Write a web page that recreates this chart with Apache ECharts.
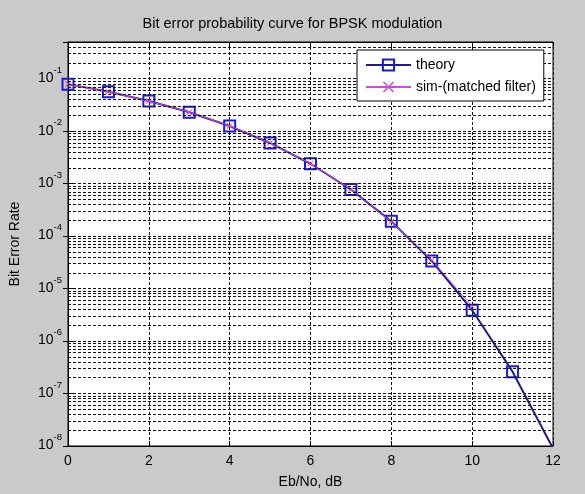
<!DOCTYPE html>
<html>
<head>
<meta charset="utf-8">
<script src="https://cdn.jsdelivr.net/npm/echarts@6/dist/echarts.min.js"></script>
<style>
html,body{margin:0;padding:0;background:#cacaca;}
#chart{width:585px;height:494px;}
</style>
</head>
<body>
<div id="chart"></div>
<script>
// Data
const ebN0dB = [0, 1, 2, 3, 4, 5, 6, 7, 8, 9, 10, 11, 12];
const theoryBer = [0.0787, 0.0563, 0.0375, 0.0229, 0.0125, 0.00595, 0.00239, 0.000773, 0.000191, 3.36e-5, 3.87e-6, 2.61e-7, 9.0e-9];
const simEbN0dB = [0, 1, 2, 3, 4, 5, 6, 7, 8, 9, 10];
const simBer = [0.0788, 0.0562, 0.0374, 0.0230, 0.0126, 0.00597, 0.00241, 0.000780, 0.000187, 3.5e-5, 4.6e-6];
const xTicks = [0, 2, 4, 6, 8, 10, 12];
const yDecades = [-8, -7, -6, -5, -4, -3, -2, -1];
const titleText = 'Bit error probability curve for BPSK modulation';
const xLabel = 'Eb/No, dB';
const yLabel = 'Bit Error Rate';
const legendNames = ['theory', 'sim-(matched filter)'];

const X_MIN = 0, X_MAX = 12, Y_MIN = 1e-8, Y_MAX = 0.5;

// minor log grid positions (2..9 x 10^n)
const minorGrid = [];
yDecades.forEach(function (n) {
  for (let k = 2; k <= 9; k++) {
    const v = k * Math.pow(10, n);
    if (v < Y_MAX) minorGrid.push(v);
  }
});

const FONT = 'Liberation Sans';
const FS = 14;
const chart = echarts.init(document.getElementById('chart'));

function yFmt(v) {
  const e = Math.log10(v);
  const r = Math.round(e);
  if (Math.abs(e - r) > 1e-6 || yDecades.indexOf(r) < 0) return '';
  return '{b|10}{s|' + r + '}';
}

const gridLine = { show: true, lineStyle: { color: '#111', type: [3, 2], width: 1 } };

chart.setOption({
  backgroundColor: '#cacaca',
  animation: false,
  title: {
    text: titleText, left: 'center', top: 11,
    textStyle: { fontFamily: FONT, fontSize: 14.5, fontWeight: 'normal', color: '#000' }
  },
  grid: { left: 67, right: 32, top: 42, bottom: 46, show: true, backgroundColor: '#fff', borderColor: '#000', borderWidth: 1 },
  legend: {
    data: legendNames, orient: 'vertical', left: 357, top: 50, z: 20,
    backgroundColor: '#fff', borderColor: '#000', borderWidth: 1,
    padding: [8, 8, 7, 8], itemGap: 8, itemWidth: 45, itemHeight: 14,
    textStyle: { fontFamily: FONT, fontSize: FS, color: '#000' }
  },
  xAxis: [{
    type: 'value', min: X_MIN, max: X_MAX, interval: 2,
    name: xLabel, nameLocation: 'middle', nameGap: 29,
    nameTextStyle: { fontFamily: FONT, fontSize: FS, color: '#000' },
    axisLine: { show: true, lineStyle: { color: '#000' } },
    axisTick: { show: true, inside: true, length: 5, lineStyle: { color: '#000' } },
    axisLabel: { fontFamily: FONT, fontSize: FS, color: '#000', margin: 8 },
    splitLine: gridLine
  }, {
    type: 'value', position: 'top', min: X_MIN, max: X_MAX, interval: 2,
    axisLine: { show: true, lineStyle: { color: '#000' } },
    axisTick: { show: true, inside: true, length: 5, lineStyle: { color: '#000' } },
    axisLabel: { show: false }, splitLine: { show: false }
  }],
  yAxis: [{
    type: 'log', logBase: 10, min: Y_MIN, max: Y_MAX,
    name: yLabel, nameLocation: 'middle', nameGap: 46,
    nameTextStyle: { fontFamily: FONT, fontSize: FS, color: '#000' },
    axisLine: { show: true, lineStyle: { color: '#000' } },
    axisTick: { show: true, inside: true, length: 5, lineStyle: { color: '#000' } },
    axisLabel: {
      formatter: yFmt, margin: 6, padding: [0, 0, 7, 0],
      rich: {
        b: { fontFamily: FONT, fontSize: FS, color: '#000', lineHeight: 20, verticalAlign: 'bottom' },
        s: { fontFamily: FONT, fontSize: 9.5, color: '#000', lineHeight: 20, verticalAlign: 'top' }
      }
    },
    splitLine: gridLine
  }, {
    type: 'log', logBase: 10, min: Y_MIN, max: Y_MAX, position: 'right',
    axisLine: { show: true, lineStyle: { color: '#000' } },
    axisTick: { show: true, inside: true, length: 5, lineStyle: { color: '#000' } },
    axisLabel: { show: false }, splitLine: { show: false }
  }],
  series: [{
    type: 'line', name: '_minor', data: [], silent: true, z: 1,
    markLine: {
      silent: true, symbol: 'none', animation: false, precision: 12,
      label: { show: false },
      lineStyle: { color: '#111', type: [3, 2], width: 1 },
      data: minorGrid.map(function (v) { return [{ coord: [X_MIN, v] }, { coord: [X_MAX, v] }]; })
    }
  }, {
    type: 'line', name: legendNames[0], z: 3, clip: true,
    data: ebN0dB.map(function (x, i) { return [x, theoryBer[i]]; }),
    lineStyle: { color: '#1c1c8c', width: 2 },
    symbol: 'rect', symbolSize: 11, showAllSymbol: true,
    itemStyle: { color: 'rgba(0,0,0,0)', borderColor: '#1a1ad4', borderWidth: 2 }
  }, {
    type: 'line', name: legendNames[1], z: 4, clip: true,
    data: simEbN0dB.map(function (x, i) { return [x, simBer[i]]; }),
    lineStyle: { color: '#d848d8', width: 1 },
    symbol: 'path://M0,1L1,0L5,4L9,0L10,1L6,5L10,9L9,10L5,6L1,10L0,9L4,5Z', symbolSize: 6, showAllSymbol: true,
    itemStyle: { color: '#d848d8' }
  }]
});
</script>
</body>
</html>
